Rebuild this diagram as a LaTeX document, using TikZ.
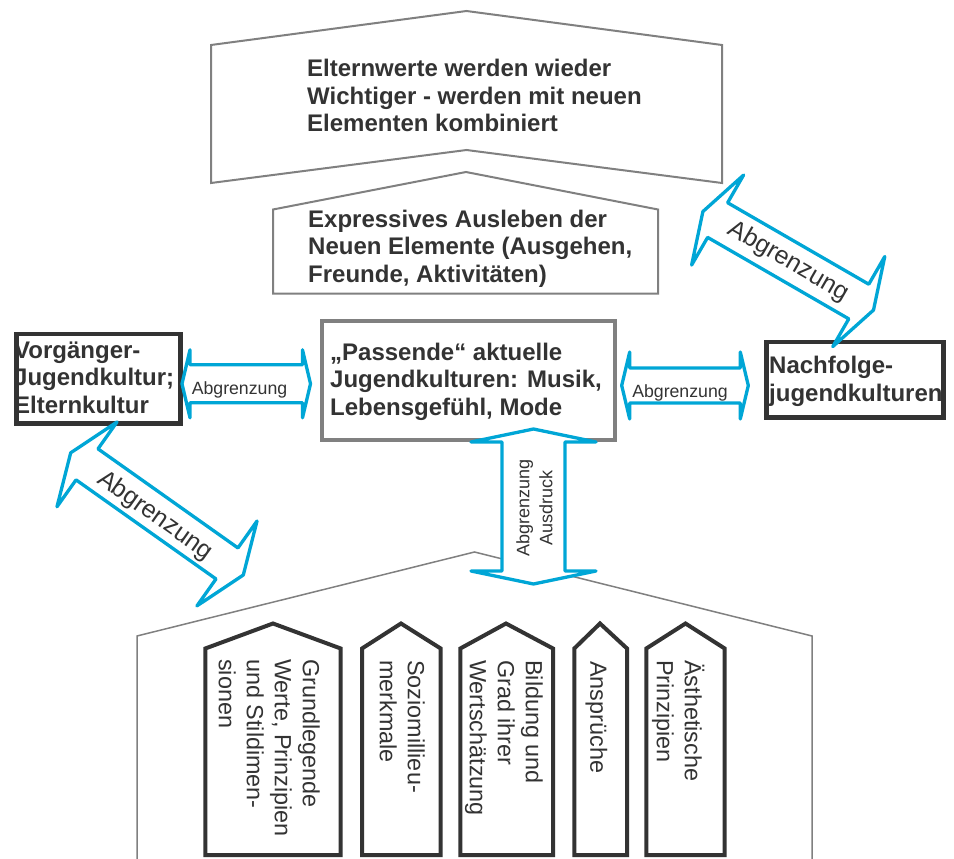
\documentclass[tikz,border=0pt]{standalone}
\usepackage{fontspec}
\setmainfont{Liberation Sans}
\definecolor{ablue}{RGB}{0,166,214}
\definecolor{dgray}{RGB}{51,51,51}
\definecolor{mgray}{RGB}{128,128,128}
\newcommand\tstrut{\rule{0pt}{22pt}}
\newcommand\dblarr[4]{% half length, back-line position, barb half width, shaft half width
  \draw[barrow] (-#1,0) -- (-#2,-#3) -- (-#2,-#4) -- (#2,-#4) -- (#2,-#3) -- (#1,0)
    -- (#2,#3) -- (#2,#4) -- (-#2,#4) -- (-#2,#3) -- cycle;}
\begin{document}
\begin{tikzpicture}[x=1pt,y=-1pt,
  bold/.style={font=\fontsize{24}{27.5}\selectfont\bfseries, text=dgray, align=left, anchor=north west, inner sep=0pt},
  vtext/.style={font=\fontsize{23.4}{28}\selectfont, text=dgray, align=left, anchor=north west, inner sep=0pt, rotate=-90},
  lbl/.style={font=\fontsize{17.7}{21}\selectfont, text=dgray, inner sep=0pt},
  dlbl/.style={font=\fontsize{25}{28}\selectfont, text=dgray, inner sep=0pt},
  barrow/.style={draw=ablue, line width=3.3pt, fill=white, line join=round},
  pent/.style={draw=dgray, line width=4pt, fill=white, line join=miter},
  gline/.style={draw=mgray, line width=2pt, line join=miter},
  box/.style={line width=4.5pt, inner sep=0pt, anchor=north west, fill=white}
]
\useasboundingbox (0,0) rectangle (954,859);
\fill[white] (0,0) rectangle (954,859);
\clip (0,0) rectangle (954,859);

% grey outline shapes
\draw[gline, fill=white] (211,45) -- (466.5,11) -- (722,45) -- (722,183) -- (466.5,150) -- (211,183) -- cycle;
\draw[gline, fill=white] (273,209.5) -- (466,172) -- (658,209.5) -- (658,293.5) -- (273,293.5) -- cycle;
\draw[gline, line width=1.5pt] (137,880) -- (137,636) -- (474.5,552) -- (812,636) -- (812,880);

% bottom pentagons
\draw[pent] (205.3,855) -- (205.3,648.5) -- (273,623.5) -- (340.7,648.5) -- (340.7,855) -- cycle;
\draw[pent] (362,855) -- (362,648.5) -- (401,623.5) -- (440.7,648.5) -- (440.7,855) -- cycle;
\draw[pent] (460.3,855) -- (460.3,648.5) -- (506,623.5) -- (553,648.5) -- (553,855) -- cycle;
\draw[pent] (574.3,855) -- (574.3,648.5) -- (600,623.5) -- (627,648.5) -- (627,855) -- cycle;
\draw[pent] (646.3,855) -- (646.3,648.5) -- (685.5,623.5) -- (724.7,648.5) -- (724.7,855) -- cycle;

% boxes
\node[box, draw=mgray, line width=4pt, minimum width=293pt, minimum height=119pt] (pass) at (320,319) {};
\node[box, draw=dgray, minimum width=164pt, minimum height=89.5pt] (vorg) at (14,331.5) {};
\node[box, draw=dgray, minimum width=177pt, minimum height=75.5pt] (nach) at (764,339.5) {};

% blue double arrows
\begin{scope}[shift={(246.25,383.8)}]\dblarr{64.25}{56.25}{34}{19}\end{scope}
\begin{scope}[shift={(685,385.5)}]\dblarr{63.3}{55.3}{33.5}{17.5}\end{scope}
\begin{scope}[shift={(533.5,506.5)}, rotate=90]\dblarr{77.5}{64.5}{62.5}{31.5}\end{scope}
\begin{scope}[shift={(788.2,260.8)}, rotate=-30]\dblarr{98.5}{81.5}{52}{20}\end{scope}
\begin{scope}[shift={(157,513.9)}, rotate=-35.3]\dblarr{105.75}{85.75}{52}{19}\end{scope}

% texts
\node[bold] (t1) at (307,54.5) {\tstrut Elternwerte werden wieder\\Wichtiger - werden mit neuen\\Elementen kombiniert};
\node[bold] (t2) at (308,205) {\tstrut Expressives Ausleben der\\Neuen Elemente (Ausgehen,\\Freunde, Aktivitäten)};
\node[bold] (t3) at (330,338) {\tstrut „Passende“ aktuelle\\Jugendkulturen: Musik,\\Lebensgefühl, Mode};
\node[bold] (t4) at (14,336) {\tstrut Vorgänger-\\Jugendkultur;\\Elternkultur};
\node[bold] (t5) at (769,351.3) {\tstrut Nachfolge-\\jugendkulturen};

\node[lbl, anchor=base] (a1) at (239.5,394.3) {Abgrenzung};
\node[lbl, anchor=base] (a2) at (680,397.3) {Abgrenzung};
\node[lbl, font=\fontsize{18}{23}\selectfont, rotate=90, align=center] (a3) at (534.5,508) {Abgrenzung\\Ausdruck};
\node[dlbl, rotate=-30] (a4) at (788.3,261.7) {Abgrenzung};
\node[dlbl, rotate=-35.3] (a5) at (155,516) {Abgrenzung};

\node[vtext] (p1) at (325,659) {\tstrut Grundlegende\\Werte, Prinzipien\\und Stildimen-\\sionen};
\node[vtext] (p2) at (430,660) {\tstrut Soziomillieu-\\merkmale};
\node[vtext] (p3) at (548,660) {\tstrut Bildung und\\Grad ihrer\\Wertschätzung};
\node[vtext] (p4) at (612.5,661) {\tstrut Ansprüche};
\node[vtext] (p5) at (707,660) {\tstrut Ästhetische\\Prinzipien};
\end{tikzpicture}
\end{document}
